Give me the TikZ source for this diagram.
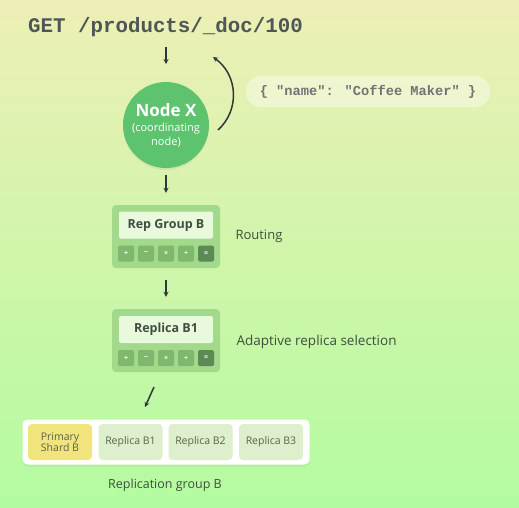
\documentclass[tikz,border=0pt]{standalone}
\usepackage{fontspec}
\setmainfont{Open Sans}
\newfontfamily\monob{Liberation Mono}
\usetikzlibrary{arrows.meta,shadows,calc}
\definecolor{bgtop}{HTML}{EEEFB6}
\definecolor{bgbot}{HTML}{B3FBA0}
\definecolor{nodegreen}{HTML}{5DC36E}
\definecolor{ink}{HTML}{2F3A38}
\definecolor{txt}{HTML}{3E4E40}
\definecolor{grpouter}{HTML}{A2D98A}
\definecolor{grpinner}{HTML}{E9FADC}
\definecolor{btn}{HTML}{7FB86C}
\definecolor{btndark}{HTML}{5B8A56}
\definecolor{shardy}{HTML}{F2E47C}
\definecolor{shardg}{HTML}{DDEFCD}
\definecolor{celltxt}{HTML}{56664C}
\tikzset{
  arr/.style={draw=ink, line width=1.5pt, -{Stealth[length=5pt,width=5pt]}},
  grpbox/.style={fill=grpouter, rounded corners=4pt, minimum width=108pt, minimum height=63pt, inner sep=0pt},
  lblbox/.style={fill=grpinner, rounded corners=2pt, minimum width=94pt, minimum height=27pt, inner sep=0pt, font=\bfseries\fontsize{12.5}{14}\selectfont, text=txt},
  btnbox/.style={fill=btn, rounded corners=1.5pt, minimum width=16pt, minimum height=16pt, inner sep=0pt, text=white, font=\bfseries\fontsize{7}{8}\selectfont},
  cell/.style={rounded corners=4pt, minimum width=64pt, minimum height=36pt, inner sep=0pt, align=center, text=celltxt, font=\fontsize{10.5}{11.5}\selectfont},
  side/.style={anchor=west, text=txt, font=\fontsize{13}{15}\selectfont},
}
\begin{document}
\begin{tikzpicture}[x=1pt,y=-1pt]
\useasboundingbox (0,0) rectangle (519,508);
\shade[top color=bgtop, bottom color=bgbot] (0,0) rectangle (519,508);

% request
\node[anchor=base west, inner sep=0pt, text=ink!85, font=\monob\bfseries\fontsize{20.8}{24}\selectfont] (get) at (28,33) {GET /products/\_doc/100};
\coordinate (g1) at (166,47);
\coordinate (g1e) at (166,64);
\coordinate (g2) at (213,57);

% Node X
\node[circle, fill=nodegreen, minimum size=86pt, inner sep=0pt, drop shadow={opacity=0.12, shadow xshift=0pt, shadow yshift=-2pt}] (nx) at (166,125) {};
\node[text=white, font=\bfseries\fontsize{17}{19}\selectfont] (nxt) at (166,110) {Node X};
\node[text=white, align=center, font=\fontsize{11}{13.5}\selectfont] (nxs) at (166,135) {(coordinating\\node)};

\draw[arr] (g1) -- (g1e);
\coordinate (c0) at (218,130);
\draw[arr] (c0) .. controls (240,110) and (238,75) .. (g2);

% JSON pill
\node[fill=white, fill opacity=0.4, text opacity=1, rounded corners=15pt, minimum width=244pt, minimum height=31pt, inner sep=0pt, text=black!55, font=\monob\bfseries\fontsize{13.7}{14}\selectfont] (json) at (368,91.5) {\{ "name": "Coffee Maker" \}};

% Rep Group B
\node[grpbox] (rg) at (166,236.5) {};
\node[lblbox] (rgl) at (166,225) {Rep Group B};
\foreach \i/\s in {0/+,1/−,2/×,3/÷} {
  \node[btnbox] (rgb\i) at (126+20*\i,253.5) {\s};
}
\node[btnbox, fill=btndark] (rgb4) at (206,253.5) {=};
\node[side] (routing) at (232,236) {Routing};

\coordinate (n1) at (166,175);
\draw[arr] (n1) -- ($(rg.north)+(0,-12)$);

% Replica B1
\node[grpbox] (rb) at (166,340.5) {};
\node[lblbox] (rbl) at (166,329.5) {Replica B1};
\foreach \i/\s in {0/+,1/−,2/×,3/÷} {
  \node[btnbox] (rbb\i) at (126+20*\i,358) {\s};
}
\node[btnbox, fill=btndark] (rbb4) at (206,358) {=};
\node[side, font=\fontsize{13.5}{15}\selectfont] (ars) at (233,342) {Adaptive replica selection};

\coordinate (r1) at (166,280);
\draw[arr] (r1) -- ($(rb.north)+(0,-12)$);

% bottom container
\node[fill=white, rounded corners=5pt, minimum width=287pt, minimum height=45pt, inner sep=0pt, drop shadow={opacity=0.1, shadow xshift=0pt, shadow yshift=-2pt}] (cont) at (166,442) {};
\node[cell, fill=shardy] (ps) at (60,442) {Primary\\Shard B};
\node[cell, fill=shardg] (b1) at (130.5,442) {Replica B1};
\node[cell, fill=shardg] (b2) at (200.5,442) {Replica B2};
\node[cell, fill=shardg] (b3) at (271,442) {Replica B3};
\node[text=txt, font=\fontsize{12.5}{14}\selectfont] (rgt) at (165,485) {Replication group B};

\coordinate (d1) at (154,387);
\coordinate (d2) at (145,407);
\draw[arr] (d1) -- (d2);
\end{tikzpicture}
\end{document}
